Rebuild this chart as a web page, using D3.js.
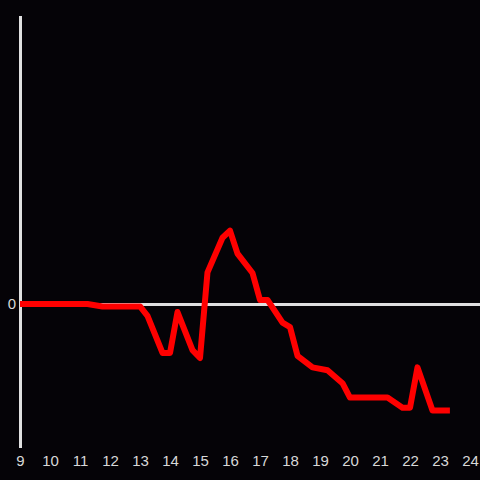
<!DOCTYPE html>
<html><head><meta charset="utf-8">
<script src="https://cdn.jsdelivr.net/npm/d3@7"></script>
<style>html,body{margin:0;padding:0;background:#050307;}svg{display:block;}</style>
</head><body>
<script>
const hours = [9, 11.25, 11.75, 13, 13.25, 13.75, 14, 14.25, 14.75, 15, 15.25, 15.75, 16, 16.25, 16.75, 17, 17.25, 17.75, 18, 18.25, 18.75, 19.25, 19.75, 20, 21.25, 21.75, 22, 22.25, 22.75, 23.33];
const values = [0, 0, -0.017, -0.017, -0.083, -0.34, -0.34, -0.056, -0.32, -0.375, 0.22, 0.46, 0.51, 0.35, 0.215, 0.028, 0.028, -0.13, -0.16, -0.36, -0.44, -0.46, -0.55, -0.65, -0.65, -0.72, -0.72, -0.44, -0.74, -0.74];
const xTicks = d3.range(9, 25);
const yTicks = [0];

const W = 480, H = 480;
const svg = d3.select("body").append("svg").attr("width", W).attr("height", H);
svg.append("rect").attr("width", W).attr("height", H).attr("fill", "#050307");

const x = d3.scaleLinear().domain([9, 24]).range([20, 470]);
const y = d3.scaleLinear().domain([-1, 2]).range([448, 16]);

// zero line
svg.append("line").attr("x1", x(9)).attr("x2", W).attr("y1", y(0) + 0.5).attr("y2", y(0) + 0.5)
  .attr("stroke", "#e0e0e0").attr("stroke-width", 3);

// vertical axis
svg.append("line").attr("x1", 20.5).attr("x2", 20.5).attr("y1", y(2)).attr("y2", y(-1))
  .attr("stroke", "#e0e0e0").attr("stroke-width", 3);

// x tick labels
const xAxis = d3.axisBottom(x).tickValues(xTicks).tickSize(0).tickPadding(0).tickFormat(d3.format("d"));
const gx = svg.append("g").attr("transform", "translate(0,455)").call(xAxis);
gx.select(".domain").remove();
gx.selectAll("text").attr("fill", "#d8d8d8").attr("font-family", "'Liberation Sans', Arial, sans-serif").attr("font-size", 15).attr("dy", "0.71em");

// y tick label
const yAxis = d3.axisLeft(y).tickValues(yTicks).tickSize(0).tickPadding(4).tickFormat(d3.format("d"));
const gy = svg.append("g").attr("transform", "translate(20,0)").call(yAxis);
gy.select(".domain").remove();
gy.selectAll("text").attr("fill", "#d8d8d8").attr("font-family", "'Liberation Sans', Arial, sans-serif").attr("font-size", 15);

// red line
const data = hours.map((h, i) => [h, values[i]]);
svg.append("path").datum(data)
  .attr("fill", "none").attr("stroke", "#ff0000").attr("stroke-width", 6)
  .attr("stroke-linejoin", "round")
  .attr("d", d3.line().x(d => x(d[0])).y(d => y(d[1])));
</script>
</body></html>
